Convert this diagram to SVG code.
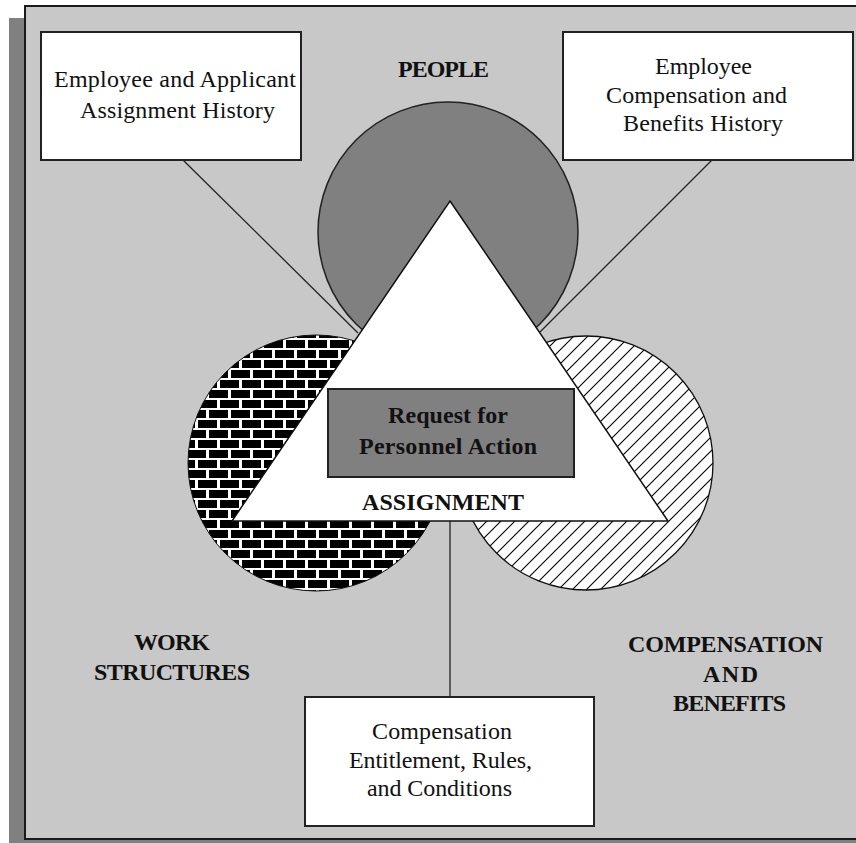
<svg xmlns="http://www.w3.org/2000/svg" width="856" height="843" viewBox="0 0 856 843">
  <defs>
    <pattern id="brick" patternUnits="userSpaceOnUse" width="22" height="20" x="0" y="0">
      <rect width="22" height="20" fill="#ffffff"/>
      <rect x="0" y="0" width="19" height="8" fill="#000"/>
      <rect x="11" y="10" width="19" height="8" fill="#000"/>
      <rect x="-11" y="10" width="19" height="8" fill="#000"/>
    </pattern>
    <pattern id="hatch" patternUnits="userSpaceOnUse" width="14" height="14">
      <rect width="14" height="14" fill="#ffffff"/>
      <path d="M-1,1 L1,-1 M0,14 L14,0 M13,15 L15,13" stroke="#000" stroke-width="1.1"/>
    </pattern>
    <style>
      .box { fill: #ffffff; stroke: #222; stroke-width: 2; }
      .t { font-family: "Liberation Serif", "Times New Roman", serif; font-size: 24px; fill: #111; }
      .b { font-family: "Liberation Serif", "Times New Roman", serif; font-size: 24px; font-weight: bold; fill: #111; }
      .conn { stroke: #222; stroke-width: 1.3; fill: none; }
    </style>
  </defs>

  <!-- background panel with shadow -->
  <rect x="0" y="0" width="856" height="843" fill="#ffffff"/>
  <rect x="9" y="18" width="860" height="830" fill="#808080"/>
  <rect x="25" y="6" width="850" height="833" fill="#c8c8c8" stroke="#1a1a1a" stroke-width="2"/>

  <!-- connectors -->
  <g id="connectors">
    <line class="conn" x1="183" y1="160" x2="358" y2="333"/>
    <line class="conn" x1="712" y1="160" x2="540" y2="332"/>
    <line class="conn" x1="450" y1="520" x2="450" y2="697"/>
  </g>

  <g id="people-circle">
    <circle cx="448" cy="232" r="130" fill="#808080" stroke="#222" stroke-width="1.5"/>
  </g>
  <g id="work-circle">
    <circle cx="316" cy="463" r="128" fill="url(#brick)" stroke="#111" stroke-width="1"/>
  </g>
  <g id="comp-circle">
    <circle cx="586" cy="463" r="127" fill="url(#hatch)" stroke="#111" stroke-width="1.3"/>
  </g>

  <g id="assignment-triangle">
    <polygon points="450,201 668,521 232,521" fill="#ffffff" stroke="#111" stroke-width="1.5"/>
    <text class="b" x="362" y="510" textLength="162">ASSIGNMENT</text>
  </g>

  <g id="request-box">
    <rect x="328" y="389" width="246" height="88" fill="#808080" stroke="#222" stroke-width="2"/>
    <text class="b" x="388" y="423" textLength="120">Request for</text>
    <text class="b" x="359" y="454" textLength="178">Personnel Action</text>
  </g>

  <g id="box-assignment-history">
    <rect class="box" x="41" y="32" width="260" height="128"/>
    <text class="t" x="54" y="87" textLength="242">Employee and Applicant</text>
    <text class="t" x="80" y="118" textLength="195">Assignment History</text>
  </g>

  <g id="box-comp-history">
    <rect class="box" x="563" y="32" width="290" height="128"/>
    <text class="t" x="655" y="74" textLength="97">Employee</text>
    <text class="t" x="606" y="103" textLength="181">Compensation and</text>
    <text class="t" x="623" y="131" textLength="160">Benefits History</text>
  </g>

  <g id="box-comp-rules">
    <rect class="box" x="305" y="697" width="289" height="129"/>
    <text class="t" x="372" y="739" textLength="140">Compensation</text>
    <text class="t" x="349" y="768" textLength="183">Entitlement, Rules,</text>
    <text class="t" x="367" y="796" textLength="145">and Conditions</text>
  </g>

  <g id="label-people">
    <text class="b" x="398" y="77" textLength="91">PEOPLE</text>
  </g>
  <g id="label-work">
    <text class="b" x="134" y="650" textLength="76">WORK</text>
    <text class="b" x="94" y="680" textLength="156">STRUCTURES</text>
  </g>
  <g id="label-comp">
    <text class="b" x="628" y="652" textLength="195">COMPENSATION</text>
    <text class="b" x="703" y="682" textLength="55">AND</text>
    <text class="b" x="673" y="711" textLength="113">BENEFITS</text>
  </g>
</svg>
